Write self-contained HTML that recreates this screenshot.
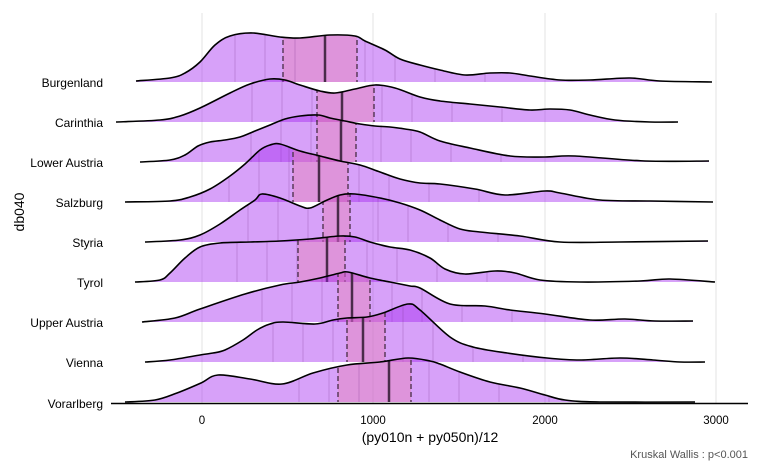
<!DOCTYPE html>
<html><head><meta charset="utf-8"><style>
html,body{margin:0;padding:0;background:#fff;}
svg{display:block;font-family:"Liberation Sans",sans-serif;}
</style></head><body>
<svg id="s" width="768" height="474" viewBox="0 0 768 474">
<g stroke="#e3e3e3" stroke-width="1">
<line x1="202" y1="13" x2="202" y2="403"/><line x1="373" y1="13" x2="373" y2="403"/>
<line x1="545" y1="13" x2="545" y2="403"/><line x1="716" y1="13" x2="716" y2="403"/>
</g>
<g id="ridges"></g>
<line x1="111" y1="403.5" x2="748" y2="403.5" stroke="#000" stroke-width="1.5"/>
<g font-size="12" fill="#000" text-anchor="end">
<text x="103" y="87">Burgenland</text><text x="103" y="127">Carinthia</text>
<text x="103" y="167">Lower Austria</text><text x="103" y="207">Salzburg</text>
<text x="103" y="247">Styria</text><text x="103" y="287">Tyrol</text>
<text x="103" y="327">Upper Austria</text><text x="103" y="367">Vienna</text>
<text x="103" y="408">Vorarlberg</text>
</g>
<g font-size="11.5" fill="#000" text-anchor="middle">
<text x="202" y="424">0</text><text x="373" y="424">1000</text>
<text x="545" y="424">2000</text><text x="716" y="424">3000</text>
</g>
<text x="430" y="442" font-size="14" text-anchor="middle">(py010n + py050n)/12</text>
<text x="24" y="212" font-size="14" text-anchor="middle" transform="rotate(-90 24 212)">db040</text>
<text x="748" y="458" font-size="11" fill="#555" text-anchor="end">Kruskal Wallis : p&lt;0.001</text>
</svg>
<script>
var R=[
{b:82,m:325,q:[283,357],p:[[136,81],[170,78],[185,73],[200,62],[215,45],[230,36],[253,33],[280,37],[300,38],[330,35],[355,36],[365,41],[385,50],[400,59],[420,65],[440,70],[465,75],[490,73],[510,73],[530,76],[560,80],[590,80],[630,78],[660,81],[712,82]]},
{b:122,m:342,q:[317,374],p:[[116,122],[160,120],[180,116],[200,108],[230,93],[250,84],[270,79],[285,80],[300,85],[320,91],[335,93],[355,89],[375,85],[395,88],[420,97],[440,101],[470,104],[500,107],[530,110],[550,109],[570,110],[590,115],[615,120],[650,122],[678,122]]},
{b:162,m:341,q:[317,356],p:[[140,162],[170,160],[185,155],[198,146],[210,142],[225,140],[240,137],[255,131],[270,125],[285,119],[300,116],[318,115],[330,118],[345,121],[360,124],[375,126],[390,127],[405,129],[420,132],[440,141],[470,148],[510,156],[545,157],[575,156],[645,161],[709,161]]},
{b:202,m:319,q:[293,348],p:[[125,202],[170,201],[190,197],[210,189],[230,176],[245,164],[260,150],[270,145],[280,144],[300,151],[320,156],[340,161],[360,165],[380,172],[400,179],[420,183],[440,184],[475,189],[505,195],[545,191],[560,193],[600,200],[650,201],[713,202]]},
{b:242,m:338,q:[323,350],p:[[145,242],[180,240],[200,235],[220,224],[240,210],[255,200],[262,194],[280,198],[300,206],[310,208],[325,201],[340,195],[355,194],[380,198],[400,203],[420,210],[440,220],[460,229],[480,232],[520,236],[560,242],[620,242],[708,241]]},
{b:282,m:327,q:[298,345],p:[[135,282],[160,280],[170,273],[185,258],[200,247],[220,243],[250,242],[280,241],[310,239],[340,236],[355,237],[370,242],[390,247],[410,250],[430,258],[445,269],[465,274],[495,271],[515,273],[540,280],[580,282],[640,281],[670,279],[715,282]]},
{b:322,m:352,q:[338,370],p:[[142,322],[175,318],[200,309],[245,294],[280,285],[300,282],[320,278],[340,273],[348,272],[370,278],[390,282],[410,286],[420,288],[450,304],[485,306],[510,310],[545,314],[590,320],[625,319],[655,321],[693,321]]},
{b:362,m:363,q:[347,385],p:[[145,362],[170,360],[200,355],[213,353],[225,350],[243,340],[257,330],[270,324],[283,322],[315,324],[333,320],[347,318],[367,317],[383,313],[408,304],[420,310],[450,337],[473,347],[507,353],[547,358],[580,360],[620,358],[653,360],[680,362],[705,362]]},
{b:402,m:389,q:[338,411],p:[[125,402],[155,400],[177,393],[201,383],[218,375],[250,379],[282,384],[313,373],[347,365],[380,362],[408,358],[430,361],[440,364],[460,372],[490,382],[520,388],[545,395],[565,400],[600,402],[695,402]]}
];
function smooth(p){var d="M"+p[0][0]+","+p[0][1];
for(var i=0;i<p.length-1;i++){var p0=p[i-1]||p[i],p1=p[i],p2=p[i+1],p3=p[i+2]||p2;
var c1=[p1[0]+(p2[0]-p0[0])/6,p1[1]+(p2[1]-p0[1])/6],c2=[p2[0]-(p3[0]-p1[0])/6,p2[1]-(p3[1]-p1[1])/6];
d+=" C"+c1[0].toFixed(1)+","+c1[1].toFixed(1)+" "+c2[0].toFixed(1)+","+c2[1].toFixed(1)+" "+p2[0]+","+p2[1];}return d;}
var g=document.getElementById("ridges"),h="";
R.forEach(function(r,i){var c=smooth(r.p),L=r.p[r.p.length-1],F=r.p[0];
var area=c+" L"+L[0]+","+r.b+" L"+F[0]+","+r.b+" Z";
h+='<clipPath id="c'+i+'"><path d="'+area+'"/></clipPath>';
h+='<path d="'+area+'" fill="rgba(160,32,240,0.42)"/>';
h+='<g clip-path="url(#c'+i+')"><rect x="'+r.q[0]+'" y="0" width="'+(r.q[1]-r.q[0])+'" height="474" fill="rgba(235,130,170,0.38)"/>';
[-90,-60,-30,40,70,110,160].forEach(function(o){h+='<line x1="'+(r.m+o)+'" y1="0" x2="'+(r.m+o)+'" y2="474" stroke="rgba(110,40,130,0.25)" stroke-width="1"/>';});
h+='<line x1="'+r.m+'" y1="0" x2="'+r.m+'" y2="474" stroke="#4a2b4a" stroke-width="2.5"/>';
r.q.forEach(function(x){h+='<line x1="'+x+'" y1="0" x2="'+x+'" y2="474" stroke="#5a3a5a" stroke-width="1.5" stroke-dasharray="5,3"/>';});
h+='</g><path d="'+c+'" fill="none" stroke="#000" stroke-width="1.6"/>';});
g.innerHTML=h;
</script>
</body></html>
